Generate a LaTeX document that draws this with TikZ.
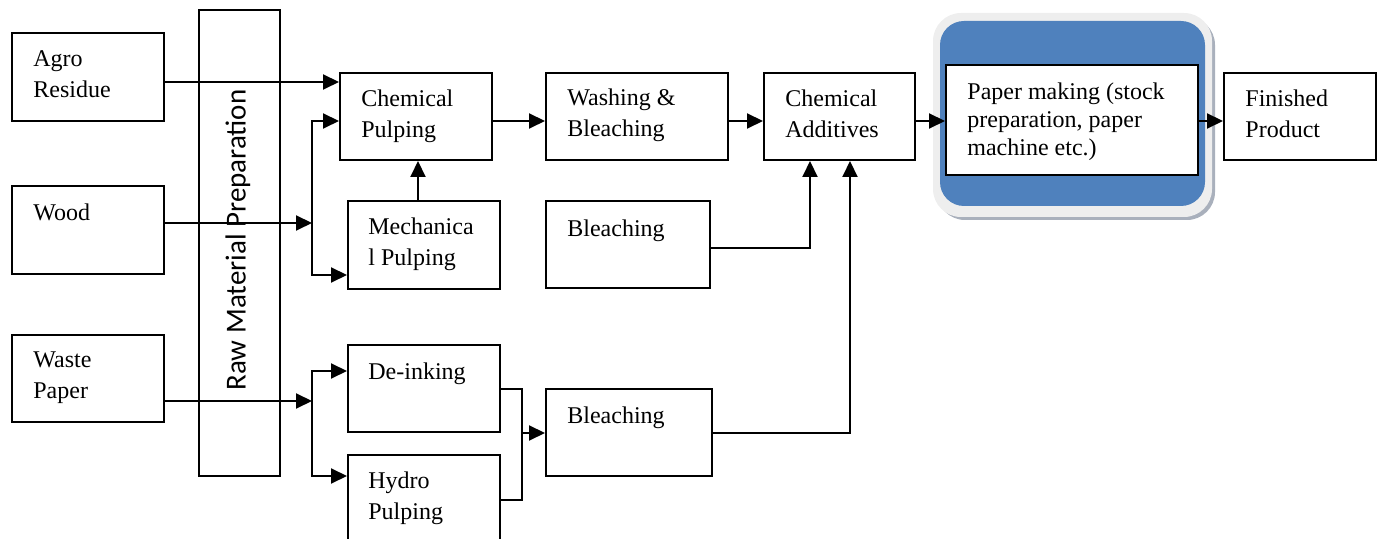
\documentclass[tikz,border=0pt]{standalone}
\usepackage{fontspec}
\setmainfont{Liberation Serif}
\newfontfamily\carlito{Carlito}
\usetikzlibrary{arrows.meta,fit}
\definecolor{pmblue}{HTML}{4F81BD}
\definecolor{ringgray}{HTML}{EEEEEE}
\definecolor{shadowgray}{HTML}{A9B0BC}
\begin{document}
\begin{tikzpicture}[x=0.5pt,y=-0.5pt,
  box/.style={draw, line width=1pt, inner sep=0pt, fill=white},
  txt/.style={anchor=north west, inner sep=0pt, align=left, font=\fontsize{12}{15.5}\selectfont},
  conn/.style={line width=1pt},
  arr/.style={line width=1pt, -{Triangle[length=8pt,width=7.5pt]}}]
\useasboundingbox (0,0) rectangle (1382,539);
\clip (0,0) rectangle (1382,539);
% raw material preparation band
\node[box, fit={(199,10)(280,476)}] (rmp) {};
\node[rotate=90, inner sep=0pt, font=\carlito\fontsize{14.5}{17}\selectfont] (rmpt) at (238,240) {Raw Material Preparation};
% sources
\node[box, fit={(12,33)(164,121)}] (agro) {};
\node[txt] (agrot) at (33,50) {Agro\\Residue};
\node[box, fit={(12,186)(164,274)}] (wood) {};
\node[txt] (woodt) at (33,203) {Wood};
\node[box, fit={(12,335)(164,422)}] (waste) {};
\node[txt] (wastet) at (33,351) {Waste\\Paper};
% pulping
\node[box, fit={(340,73)(492,160)}] (cp) {};
\node[txt] (cpt) at (361,89) {Chemical\\Pulping};
\node[box, fit={(348,201)(500,289)}] (mp) {};
\node[txt] (mpt) at (368,217) {Mechanica\\l Pulping};
\node[box, fit={(348,345)(500,432)}] (di) {};
\node[txt] (dit) at (368,362) {De-inking};
\node[box, fit={(348,455)(500,548)}] (hp) {};
\node[txt] (hpt) at (368,471) {Hydro\\Pulping};
% middle column
\node[box, fit={(546,73)(728,160)}] (wb) {};
\node[txt] (wbt) at (567,88) {Washing \&\\Bleaching};
\node[box, fit={(546,201)(710,288)}] (bl1) {};
\node[txt] (bl1t) at (567,219) {Bleaching};
\node[box, fit={(546,389)(712,476)}] (bl2) {};
\node[txt] (bl2t) at (567,406) {Bleaching};
\node[box, fit={(764,73)(915,160)}] (ca) {};
\node[txt] (cat) at (785,89) {Chemical\\Additives};
% paper making
\fill[shadowgray] (937,17) [rounded corners=14pt] rectangle (1215,220);
\fill[ringgray] (933,13) [rounded corners=14pt] rectangle (1212,217);
\fill[pmblue] (940,21) [rounded corners=12pt] rectangle (1205,206);
\node[box, fit={(946,65)(1198,175)}] (pm) {};
\node[txt, font=\fontsize{12}{14}\selectfont] (pmt) at (967,82) {Paper making (stock\\preparation, paper\\machine etc.)};
\node[box, fit={(1224,73)(1376,160)}] (fp) {};
\node[txt] (fpt) at (1245,89) {Finished\\Product};
% junctions
\coordinate (j1) at (312,223);
\coordinate (j2) at (312,401);
\coordinate (j3) at (522,433);
% connectors
\draw[arr] (agro.east |- 0,82) -- (cp.west |- 0,82);
\draw[arr] (wood.east |- j1) -- (j1);
\draw[arr] (j1) |- (cp.west |- 0,121);
\draw[arr] (j1) |- (mp.west |- 0,275);
\draw[arr] (mp.north -| 418,0) -- (cp.south -| 418,0);
\draw[arr] (cp.east |- 0,121) -- (wb.west |- 0,121);
\draw[arr] (wb.east |- 0,121) -- (ca.west |- 0,121);
\draw[arr] (ca.east |- 0,121) -- (pm.west |- 0,121);
\draw[arr] (pm.east |- 0,121) -- (fp.west |- 0,121);
\draw[arr] (bl1.east |- 0,248) -| (ca.south -| 810,0);
\draw[arr] (bl2.east |- 0,433) -| (ca.south -| 850,0);
\draw[arr] (waste.east |- j2) -- (j2);
\draw[arr] (j2) |- (di.west |- 0,371);
\draw[arr] (j2) |- (hp.west |- 0,476);
\draw[conn] (di.east |- 0,389) -| (j3);
\draw[conn] (hp.east |- 0,500) -| (j3);
\draw[arr] (j3) -- (bl2.west |- j3);
\end{tikzpicture}
\end{document}
